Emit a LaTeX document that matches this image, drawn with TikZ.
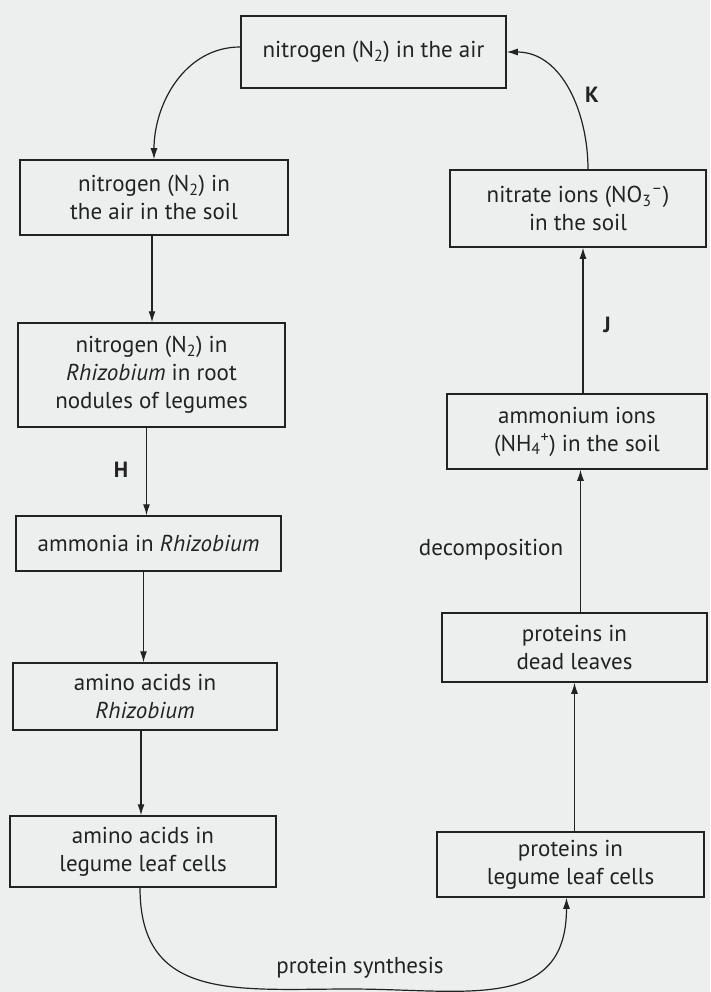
\documentclass[tikz,border=0pt]{standalone}
\usepackage{fontspec}
\setmainfont{PT Sans}
\usetikzlibrary{arrows.meta,positioning}
\definecolor{paper}{HTML}{EDEFEF}
\definecolor{ink}{HTML}{222222}

\begin{document}
\begin{tikzpicture}[x=1pt,y=-1pt]
		\tikzset{cycle box/.style={draw=ink,line width=1.5pt,align=center,inner sep=0pt,text=ink,font=\fontsize{23}{28}\selectfont},
			cycle arrow/.style={draw=ink,line width=1.2pt,-{Latex[length=11pt,width=7pt]}},
			step label/.style={text=ink,font=\fontsize{22}{24}\selectfont\bfseries},
			side label/.style={text=ink,font=\fontsize{23}{24}\selectfont}}

		\fill[paper] (0,0) rectangle (710,992);
		\useasboundingbox (0,0) rectangle (710,992);

		\node [cycle box,minimum width=265pt,minimum height=72pt] (air) at (373.5,52) {nitrogen (N\textsubscript{2}) in the air};
		\node [cycle box,minimum width=268pt,minimum height=75pt] (soilair) at (154,197.5) {nitrogen (N\textsubscript{2}) in\\the air in the soil};
		\node [cycle box,minimum width=267pt,minimum height=104pt] (nodules) at (151.5,375) {nitrogen (N\textsubscript{2}) in\\\textit{Rhizobium} in root\\nodules of legumes};
		\node [cycle box,minimum width=265pt,minimum height=55pt] (ammonia) at (148.5,543.5) {ammonia in \textit{Rhizobium}};
		\node [cycle box,minimum width=264pt,minimum height=67pt] (aminorhiz) at (145,696.5) {amino acids in\\\textit{Rhizobium}};
		\node [cycle box,minimum width=266pt,minimum height=71pt] (aminoleaf) at (143,851.5) {amino acids in\\legume leaf cells};

		\node [cycle box,minimum width=256pt,minimum height=77pt] (nitrate) at (578,208.5) {nitrate ions (NO\textsubscript{3}\textsuperscript{--})\\in the soil};
		\node [cycle box,minimum width=260pt,minimum height=75pt] (ammonium) at (577,431.5) {ammonium ions\\(NH\textsubscript{4}\textsuperscript{+}) in the soil};
		\node [cycle box,minimum width=265pt,minimum height=69pt] (deadleaves) at (574.5,647.5) {proteins in\\dead leaves};
		\node [cycle box,minimum width=267pt,minimum height=65pt] (proteinleaf) at (570.5,864.5) {proteins in\\legume leaf cells};

		\draw[cycle arrow] ([yshift=5pt]air.west) to[out=180,in=90] (soilair.north);
		\draw[cycle arrow] ([xshift=-2pt]soilair.south) -- ([xshift=-2pt]soilair.south |- nodules.north);
		\draw[cycle arrow] ([xshift=-5pt]nodules.south) -- ([xshift=-5pt]nodules.south |- ammonia.north);
		\draw[cycle arrow] ([xshift=-5pt]ammonia.south) -- ([xshift=-5pt]ammonia.south |- aminorhiz.north);
		\draw[cycle arrow] ([xshift=-4pt]aminorhiz.south) -- ([xshift=-4pt]aminorhiz.south |- aminoleaf.north);

		\coordinate (synthbottom) at (350,989);
		\draw[cycle arrow] ([xshift=-3pt]aminoleaf.south) to[out=-90,in=180,looseness=1.25] (synthbottom) to[out=0,in=-90,looseness=1.25] ([xshift=-4pt]proteinleaf.south);
		\draw[cycle arrow] ([xshift=4pt]proteinleaf.north) -- ([xshift=4pt]proteinleaf.north |- deadleaves.south);
		\draw[cycle arrow] ([xshift=6pt]deadleaves.north) -- ([xshift=6pt]deadleaves.north |- ammonium.south);
		\draw[cycle arrow] ([xshift=6pt]ammonium.north) -- ([xshift=6pt]ammonium.north |- nitrate.south);
		\draw[cycle arrow] ([xshift=10pt]nitrate.north) to[out=90,in=0] (air.east);

		\node[step label] (H) at (121,470) {H};
		\node[step label] (J) at (607,325) {J};
		\node[step label] (K) at (592,95) {K};
		\node[side label] (decomp) at (491,550) {decomposition};
		\node[side label] (synth) at (360,968) {protein synthesis};
	\end{tikzpicture}
\end{document}
